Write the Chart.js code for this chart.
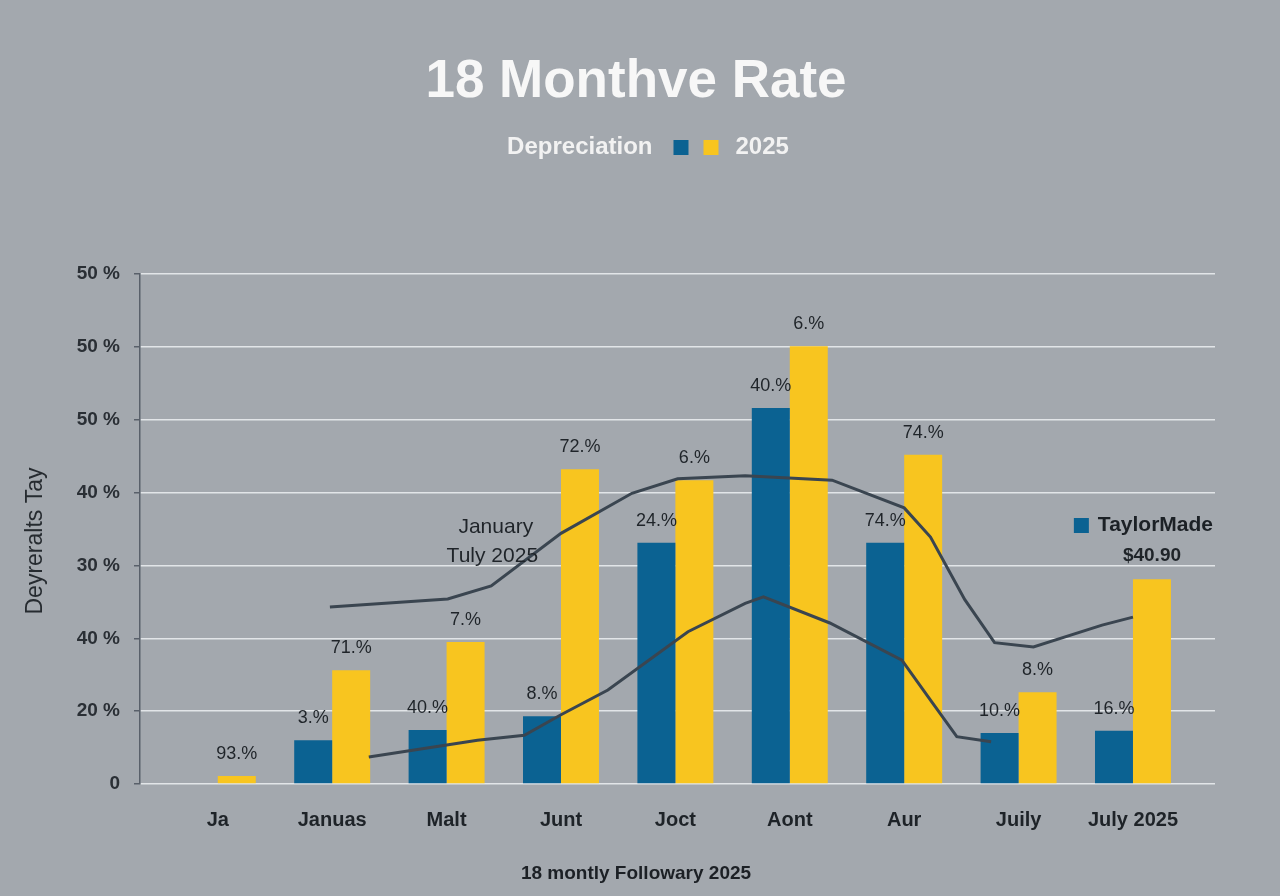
<!DOCTYPE html>
<html>
<head>
<meta charset="utf-8">
<script src="https://cdn.jsdelivr.net/npm/chart.js@4/dist/chart.umd.min.js"></script>
<style>
  html, body { margin: 0; padding: 0; background: #a3a8ae; }
  #wrap { width: 1280px; height: 896px; }
</style>
</head>
<body>
<div id="wrap"><canvas id="c" width="1280" height="896"></canvas></div>
<script>
// ---- data ----
const categories = ['Ja', 'Januas', 'Malt', 'Junt', 'Joct', 'Aont', 'Aur', 'Juily', 'July 2025'];
const depreciationValues = [null, 6.0, 7.4, 9.3, 33.1, 51.6, 33.1, 7.0, 7.3];
const rate2025Values = [1.1, 15.6, 19.5, 43.2, 41.7, 60.1, 45.2, 12.6, 28.1];
const depreciationLabels = ['', '3.%', '40.%', '8.%', '24.%', '40.%', '74.%', '10.%', '16.%'];
const rate2025Labels = ['93.%', '71.%', '7.%', '72.%', '6.%', '6.%', '74.%', '8.%', '$40.90'];
const yTickLabels = ['0', '20 %', '40 %', '30 %', '40 %', '50 %', '50 %', '50 %'];
// trend lines: position along the category index, value
const upperTrendX = [0.98, 2.01, 2.39, 3.0, 3.62, 4.02, 4.61, 5.37, 6.0, 6.23, 6.53, 6.79, 7.13, 7.73, 8.0];
const upperTrendY = [24.3, 25.4, 27.2, 34.4, 39.9, 41.9, 42.3, 41.7, 37.9, 33.9, 25.3, 19.4, 18.8, 21.8, 22.9];
const lowerTrendX = [1.32, 2.27, 2.68, 3.0, 3.41, 4.11, 4.61, 4.77, 5.35, 5.98, 6.23, 6.46, 6.76];
const lowerTrendY = [3.7, 6.0, 6.7, 9.5, 12.9, 20.9, 24.8, 25.7, 22.1, 17.0, 11.5, 6.5, 5.8];

const chartTitle = '18 Monthve Rate';
const legendLeftText = 'Depreciation';
const legendRightText = '2025';
const sideLegendText = 'TaylorMade';
const annotationLines = ['January', 'Tuly 2025'];
const yAxisTitle = 'Deyreralts Tay';
const xAxisTitle = '18 montly Followary 2025';

const BLUE = '#0b6292';
const YELLOW = '#f8c51f';
const LINE = '#3a4550';
const TEXT_DARK = '#1f2429';
const FONT = "'Liberation Sans', Arial, Helvetica, sans-serif";

const bgPlugin = {
  id: 'bg',
  beforeDraw(chart) {
    const ctx = chart.ctx;
    ctx.save();
    ctx.fillStyle = '#a3a8ae';
    ctx.fillRect(0, 0, chart.width, chart.height);
    ctx.restore();
  }
};

const labelPlugin = {
  id: 'barLabels',
  afterDatasetsDraw(chart) {
    const ctx = chart.ctx;
    const sets = [[0, depreciationLabels], [1, rate2025Labels]];
    ctx.save();
    ctx.textAlign = 'center';
    ctx.textBaseline = 'middle';
    ctx.fillStyle = TEXT_DARK;
    sets.forEach(([di, labels]) => {
      const meta = chart.getDatasetMeta(di);
      meta.data.forEach((bar, i) => {
        const t = labels[i];
        if (!t) return;
        const isMoney = t.startsWith('$');
        ctx.font = (isMoney ? 'bold 19px ' : '18px ') + FONT;
        const y = isNaN(bar.y) ? chart.chartArea.bottom : bar.y;
        ctx.fillText(t, bar.x, y - (isMoney ? 24 : 22));
      });
    });
    ctx.restore();
  }
};

const decoPlugin = {
  id: 'deco',
  afterDraw(chart) {
    const ctx = chart.ctx;
    const area = chart.chartArea;
    const xs = chart.scales.x, ys = chart.scales.y;
    ctx.save();
    // title
    ctx.fillStyle = '#f7f7f7';
    ctx.font = 'bold 53px ' + FONT;
    ctx.textAlign = 'center';
    ctx.textBaseline = 'middle';
    ctx.fillText(chartTitle, 636, 82);

    // header legend row
    ctx.font = 'bold 24px ' + FONT;
    const w1 = ctx.measureText(legendLeftText).width;
    const w2 = ctx.measureText(legendRightText).width;
    const box = 15;
    const total = w1 + 21 + box + 15 + box + 17 + w2;
    let x = 648 - total / 2;
    const cy = 147;
    ctx.textAlign = 'left';
    ctx.fillStyle = '#f2f2f2';
    ctx.fillText(legendLeftText, x, cy);
    x += w1 + 21;
    ctx.fillStyle = BLUE;
    ctx.fillRect(x, cy - 7, box, box);
    x += box + 15;
    ctx.fillStyle = YELLOW;
    ctx.fillRect(x, cy - 7, box, box);
    x += box + 17;
    ctx.fillStyle = '#f2f2f2';
    ctx.fillText(legendRightText, x, cy);

    // side legend
    ctx.font = 'bold 21px ' + FONT;
    const sw = ctx.measureText(sideLegendText).width;
    const sx = area.right - 2 - sw;
    ctx.fillStyle = BLUE;
    ctx.fillRect(sx - 24, 518, 15, 15);
    ctx.fillStyle = '#1c2126';
    ctx.fillText(sideLegendText, sx, 525);

    // annotation
    ctx.font = '21px ' + FONT;
    ctx.textAlign = 'center';
    ctx.fillStyle = TEXT_DARK;
    ctx.fillText(annotationLines[0], xs.getPixelForValue(2.43), ys.getPixelForValue(35.3));
    ctx.fillText(annotationLines[1], xs.getPixelForValue(2.40), ys.getPixelForValue(31.2));

    // y axis title
    ctx.save();
    ctx.translate(36, 541);
    ctx.rotate(-Math.PI / 2);
    ctx.font = '23px ' + FONT;
    ctx.fillStyle = '#262b30';
    ctx.fillText(yAxisTitle, 0, 0);
    ctx.restore();

    // x axis title
    ctx.font = 'bold 19px ' + FONT;
    ctx.fillStyle = '#1c2025';
    ctx.fillText(xAxisTitle, 636, 874);
    ctx.restore();
  }
};

const toPoints = (xsArr, ysArr) => xsArr.map((v, i) => ({ x: v, y: ysArr[i] }));

new Chart(document.getElementById('c'), {
  data: {
    datasets: [
      {
        type: 'bar',
        label: 'Depreciation',
        data: depreciationValues.map((v, i) => ({ x: i, y: v })),
        backgroundColor: BLUE,
        borderWidth: 0,
        categoryPercentage: 0.664,
        barPercentage: 1.0,
        order: 1
      },
      {
        type: 'bar',
        label: '2025',
        data: rate2025Values.map((v, i) => ({ x: i, y: v })),
        backgroundColor: YELLOW,
        borderWidth: 0,
        categoryPercentage: 0.664,
        barPercentage: 1.0,
        order: 1
      },
      {
        type: 'line',
        label: 'upper',
        data: toPoints(upperTrendX, upperTrendY),
        borderColor: LINE,
        borderWidth: 3,
        pointRadius: 0,
        tension: 0,
        fill: false,
        order: 0
      },
      {
        type: 'line',
        label: 'lower',
        data: toPoints(lowerTrendX, lowerTrendY),
        borderColor: LINE,
        borderWidth: 3,
        pointRadius: 0,
        tension: 0,
        fill: false,
        order: 0
      }
    ]
  },
  options: {
    responsive: false,
    animation: false,
    devicePixelRatio: 1,
    layout: { padding: { top: 274, right: 65, left: 0, bottom: 0 } },
    plugins: {
      legend: { display: false },
      title: { display: false },
      tooltip: { enabled: false }
    },
    scales: {
      x: {
        type: 'linear',
        offset: false,
        min: -0.68,
        max: 8.717,
        afterBuildTicks: (s) => { s.ticks = categories.map((_, i) => ({ value: i })); },
        afterFit: (s) => { s.height = 112; },
        grid: { display: false, drawTicks: false, offset: false },
        border: { display: false },
        ticks: {
          autoSkip: false,
          maxRotation: 0,
          padding: 24,
          color: '#1e2328',
          font: { family: FONT, size: 20, weight: 'bold' },
          callback: (v) => categories[v]
        }
      },
      y: {
        type: 'linear',
        min: 0,
        max: 70,
        afterFit: (s) => { s.width = 140; },
        grid: { color: '#e2e5e8', lineWidth: 1.5, tickColor: '#59606a', tickLength: 6 },
        border: { display: true, color: '#59606a', width: 1.5 },
        ticks: {
          stepSize: 10,
          padding: 14,
          color: '#2a2f35',
          font: { family: FONT, size: 19, weight: 'bold' },
          callback: (v, i) => yTickLabels[i]
        }
      }
    }
  },
  plugins: [bgPlugin, labelPlugin, decoPlugin]
});
</script>
</body>
</html>
